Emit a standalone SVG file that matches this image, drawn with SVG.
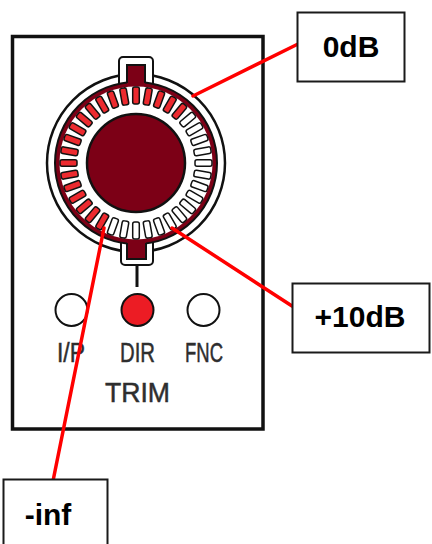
<svg xmlns="http://www.w3.org/2000/svg" width="432" height="544" viewBox="0 0 432 544">
<style>
.lbl{font-family:"Liberation Sans",Arial,sans-serif;font-size:28px;fill:#2e2e2e;stroke:#2e2e2e;stroke-width:0.5;text-anchor:middle}
.big{font-family:"Liberation Sans",Arial,sans-serif;font-size:30px;font-weight:bold;fill:#000;text-anchor:middle}
.box{fill:#fff;stroke:#1a1a1a;stroke-width:2}
.ln{stroke:#ff0000;stroke-width:3.5;fill:none;stroke-linecap:round}
.sr{fill:#ec2a2f;stroke:#111;stroke-width:1.5}
.sw{fill:#fff;stroke:#111;stroke-width:1.5}
.dk{fill:#7c0016}
.led{stroke:#111;stroke-width:2}
</style>
<defs>
<rect id="slot" x="-3.3" y="-76" width="6.6" height="17" rx="2"/>
</defs>
<rect width="432" height="544" fill="#fff"/>
<g id="panel">
<rect x="12.5" y="36.5" width="250.5" height="392.5" fill="#fff" stroke="#111" stroke-width="3.5"/>
</g>
<g id="knob">
<circle cx="136" cy="163" r="89" fill="#fff" stroke="#111" stroke-width="2.5"/>
<rect x="119" y="57" width="34" height="30" rx="4" fill="#fff" stroke="#111" stroke-width="2"/>
<rect x="121" y="238" width="32" height="27" rx="4" fill="#fff" stroke="#111" stroke-width="2"/>
<circle cx="136" cy="163" r="81" class="dk" stroke="#111" stroke-width="2"/>
<rect x="127" y="65" width="18" height="22" class="dk"/>
<path d="M127,83 V65 H145 V83" fill="none" stroke="#111" stroke-width="2"/>
<rect x="127" y="240" width="19" height="19" class="dk"/>
<path d="M127,243 V259 H146 V243" fill="none" stroke="#111" stroke-width="2"/>
<line x1="137" y1="265" x2="137" y2="287" stroke="#111" stroke-width="3"/>
<circle cx="136" cy="163" r="76.5" fill="#fff"/>
<g transform="translate(136 163)">
<use href="#slot" class="sr" transform="rotate(0)"/>
<use href="#slot" class="sr" transform="rotate(10)"/>
<use href="#slot" class="sr" transform="rotate(20)"/>
<use href="#slot" class="sr" transform="rotate(30)"/>
<use href="#slot" class="sr" transform="rotate(40)"/>
<use href="#slot" class="sw" transform="rotate(50)"/>
<use href="#slot" class="sw" transform="rotate(60)"/>
<use href="#slot" class="sw" transform="rotate(70)"/>
<use href="#slot" class="sw" transform="rotate(80)"/>
<use href="#slot" class="sw" transform="rotate(90)"/>
<use href="#slot" class="sw" transform="rotate(100)"/>
<use href="#slot" class="sw" transform="rotate(110)"/>
<use href="#slot" class="sw" transform="rotate(120)"/>
<use href="#slot" class="sw" transform="rotate(130)"/>
<use href="#slot" class="sw" transform="rotate(140)"/>
<use href="#slot" class="sw" transform="rotate(150)"/>
<use href="#slot" class="sw" transform="rotate(160)"/>
<use href="#slot" class="sw" transform="rotate(170)"/>
<use href="#slot" class="sw" transform="rotate(180)"/>
<use href="#slot" class="sw" transform="rotate(190)"/>
<use href="#slot" class="sw" transform="rotate(200)"/>
<use href="#slot" class="sr" transform="rotate(210)"/>
<use href="#slot" class="sr" transform="rotate(220)"/>
<use href="#slot" class="sr" transform="rotate(230)"/>
<use href="#slot" class="sr" transform="rotate(240)"/>
<use href="#slot" class="sr" transform="rotate(250)"/>
<use href="#slot" class="sr" transform="rotate(260)"/>
<use href="#slot" class="sr" transform="rotate(270)"/>
<use href="#slot" class="sr" transform="rotate(280)"/>
<use href="#slot" class="sr" transform="rotate(290)"/>
<use href="#slot" class="sr" transform="rotate(300)"/>
<use href="#slot" class="sr" transform="rotate(310)"/>
<use href="#slot" class="sr" transform="rotate(320)"/>
<use href="#slot" class="sr" transform="rotate(330)"/>
<use href="#slot" class="sr" transform="rotate(340)"/>
<use href="#slot" class="sr" transform="rotate(350)"/>
</g>
<circle cx="136" cy="163" r="49" class="dk" stroke="#111" stroke-width="2.5"/>
</g>
<g id="leds">
<circle cx="71.5" cy="310" r="16" fill="#fff" class="led"/>
<circle cx="137.5" cy="310" r="16" fill="#ec1c24" class="led"/>
<circle cx="203.5" cy="310" r="16" fill="#fff" class="led"/>
</g>
<g id="labels">
<text class="lbl" x="71" y="362" textLength="28" lengthAdjust="spacingAndGlyphs">I/P</text>
<text class="lbl" x="137.5" y="362" textLength="35" lengthAdjust="spacingAndGlyphs">DIR</text>
<text class="lbl" x="204" y="362" textLength="38" lengthAdjust="spacingAndGlyphs">FNC</text>
<text class="lbl" x="137.5" y="402" font-size="30" textLength="65" lengthAdjust="spacingAndGlyphs">TRIM</text>
</g>
<g id="connectors">
<line class="ln" x1="298" y1="44" x2="193" y2="96"/>
<line class="ln" x1="292" y1="306" x2="172" y2="228"/>
<line class="ln" x1="53" y1="481" x2="104" y2="228"/>
</g>
<g id="box-0dB">
<rect class="box" x="297.5" y="12.5" width="107" height="69"/>
<text class="big" x="351" y="57">0dB</text>
</g>
<g id="box-10dB">
<rect class="box" x="292.5" y="283.5" width="137" height="69"/>
<text class="big" x="360" y="327">+10dB</text>
</g>
<g id="box-inf">
<rect class="box" x="3.5" y="479.5" width="104" height="70"/>
<text class="big" x="48" y="525">-inf</text>
</g>
</svg>
